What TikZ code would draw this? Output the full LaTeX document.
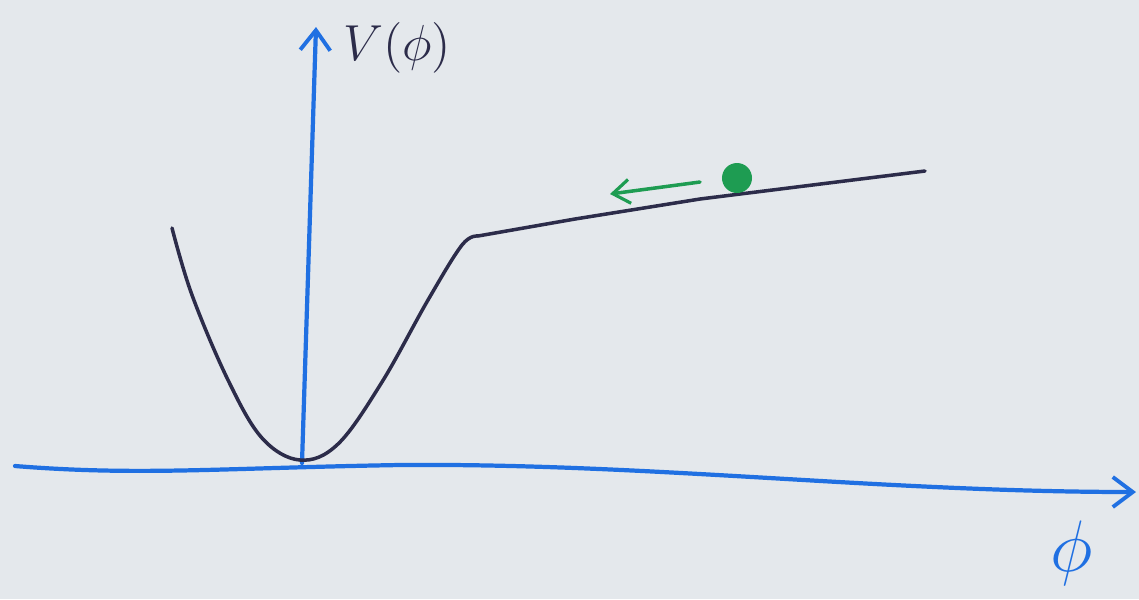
\documentclass[tikz,border=0pt]{standalone}
\usepackage{amsmath}
\usepackage{tikz}
\usetikzlibrary{arrows.meta}
\definecolor{paper}{RGB}{228,232,236}
\definecolor{pen}{RGB}{32,112,226}
\definecolor{ink}{RGB}{44,44,74}
\definecolor{marker}{RGB}{30,156,82}
\begin{document}
\begin{tikzpicture}[
        x=0.01cm, y=-0.01cm,
        axis/.style={pen, line width=1.2pt, line cap=round, -{Straight Barb[length=0.2cm, width=0.3cm, line width=1.1pt]}},
        potential/.style={ink, line width=1pt, line cap=round, line join=round},
        ball/.style={circle, fill=marker, inner sep=0pt, minimum width=0.3cm, minimum height=0.27cm},
        push/.style={marker, line width=1pt, line cap=round, -{Straight Barb[length=0.17cm, width=0.24cm, line width=0.9pt]}}
    ]
    \fill[paper] (0,0) rectangle (1139,599);
    \useasboundingbox (0,0) rectangle (1139,599);

    % Axes
    \coordinate (xstart) at (15,466);
    \coordinate (xend) at (1136,492);
    \coordinate (origin) at (302,463);
    \coordinate (ytop) at (316,27);
    \draw[axis] (xstart) .. controls (140,476) and (220,468) .. (400,465)
        .. controls (650,463) and (880,492) .. (xend);
    \draw[axis] (origin) -- (ytop);

    % Potential
    \draw[potential] plot[smooth, tension=0.6] coordinates {(172,228) (192,295) (228,380) (262,438) (300,460) (338,444) (382,382) (428,300) (462,245) (478,236)}
        -- (575,219) -- (700,199) -- (925,171);

    % Rolling field
    \node[ball] (ball) at (737,178) {};
    \coordinate (pushstart) at (700,182);
    \coordinate (pushend) at (610,194);
    \draw[push] (pushstart) -- (pushend);

    % Labels
    \node[ink, font=\fontsize{14}{16}\selectfont] (vlabel) at (397,48) {$V(\phi)$};
    \node[pen, font=\fontsize{22}{26}\selectfont] (philabel) at (1072,553) {$\phi$};
\end{tikzpicture}
\end{document}
